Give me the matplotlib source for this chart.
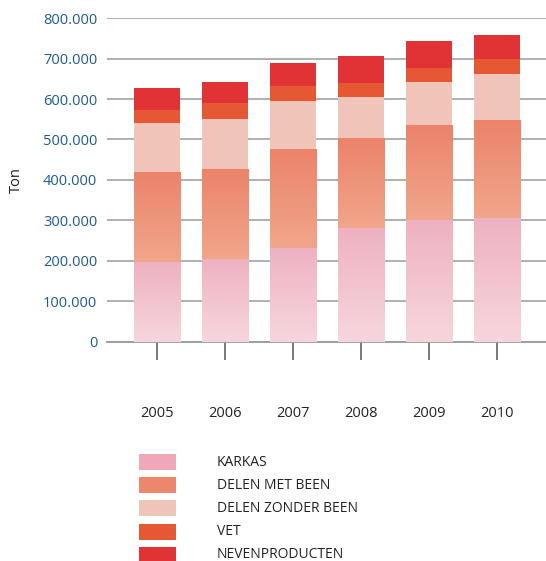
import matplotlib
matplotlib.use("Agg")
import matplotlib.pyplot as plt
import numpy as np
from matplotlib.colors import LinearSegmentedColormap
from matplotlib.patches import Rectangle
from matplotlib.ticker import FuncFormatter

plt.rcParams["font.family"] = ["Open Sans", "DejaVu Sans"]

years = ["2005", "2006", "2007", "2008", "2009", "2010"]
karkas = [197000, 206000, 233000, 282000, 300000, 305000]
delen_met_been = [221000, 222000, 244000, 222000, 234000, 241000]
delen_zonder_been = [123000, 123000, 118000, 101000, 108000, 116000]
vet = [32000, 39000, 37000, 35000, 35000, 37000]
nevenproducten = [54000, 52000, 57000, 66000, 66000, 59000]

labels = ["KARKAS", "DELEN MET BEEN", "DELEN ZONDER BEEN", "VET", "NEVENPRODUCTEN"]
series = [karkas, delen_met_been, delen_zonder_been, vet, nevenproducten]
colors = ["#eea8ba", "#ec866c", "#f1c4ba", "#e65733", "#e13236"]
# vertical gradients (bottom colour, top colour) for the first two series
gradients = {0: ("#f7d6de", "#eeb1c1"), 1: ("#f1a68b", "#eb836a")}

fig = plt.figure(figsize=(5.46, 5.61), dpi=100)
ax = fig.add_axes([0.196, 0.3904, 0.804, 0.5775])

x = np.arange(len(years))
width = 0.68
bottom = np.zeros(len(years))
for i, (vals, col) in enumerate(zip(series, colors)):
    vals = np.array(vals, dtype=float)
    ax.bar(x, vals, width, bottom=bottom, color=col, linewidth=0, zorder=2)
    if i in gradients:
        cmap = LinearSegmentedColormap.from_list("g%d" % i, list(gradients[i]))
        grad = np.linspace(0, 1, 256).reshape(-1, 1)
        for xi, b, v in zip(x, bottom, vals):
            ax.imshow(grad, cmap=cmap, origin="lower", aspect="auto",
                      extent=[xi - width / 2, xi + width / 2, b, b + v],
                      zorder=3, interpolation="bicubic")
    bottom += vals

ax.set_xlim(-0.735, 5.72)
ax.set_ylim(0, 800000)
ax.set_yticks(np.arange(0, 800001, 100000))
ax.yaxis.set_major_formatter(FuncFormatter(lambda v, p: f"{int(v):,}".replace(",", ".")))
ax.set_xticks(x)
ax.set_xticklabels(years)

ax.grid(axis="y", color="#9a9a9a", linewidth=1.1, zorder=1)
ax.set_axisbelow(True)
for s in ["top", "right", "left"]:
    ax.spines[s].set_visible(False)
ax.spines["bottom"].set_color("#9a9a9a")
ax.spines["bottom"].set_linewidth(1.3)

ax.tick_params(axis="y", length=0, pad=7, labelsize=10.5, labelcolor="#1f5a96")
ax.tick_params(axis="x", direction="out", length=13, width=1.3, color="#6e6e6e",
               pad=33, labelsize=10.5, labelcolor="#222222")
ax.set_ylabel("Ton", fontsize=10.5, color="#222222", labelpad=14)

# legend drawn by hand in figure pixels
W, H = 546, 561
for k, (lab, col) in enumerate(zip(labels, colors)):
    yc = 462 + k * 23.2
    fig.patches.append(Rectangle((139 / W, 1 - (yc + 8) / H), 37 / W, 16 / H,
                                 transform=fig.transFigure, color=col, linewidth=0))
    fig.text(217 / W, 1 - yc / H, lab, fontsize=10, color="#222222", va="center")

fig.savefig("out.png", dpi=100)
